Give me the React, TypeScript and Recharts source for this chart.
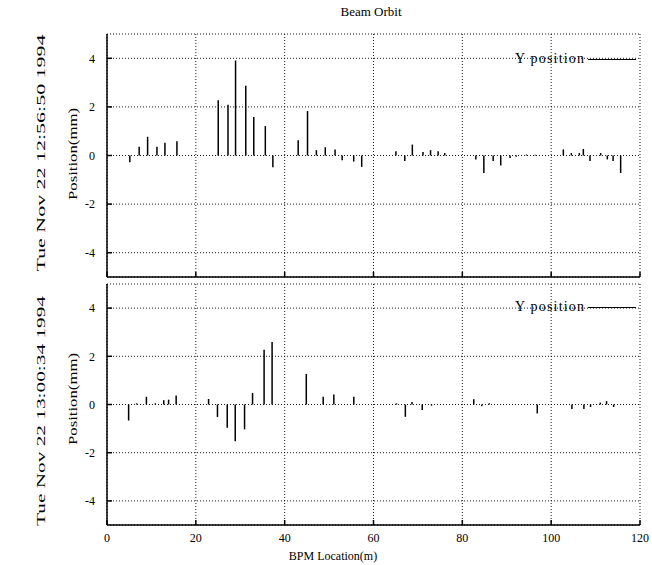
import React from 'react';
import { BarChart, Bar, XAxis, YAxis, CartesianGrid, Legend } from 'recharts';

const FONT = 'Liberation Serif';

const xTicks = [0, 20, 40, 60, 80, 100, 120];
const yTicks = [-4, -2, 0, 2, 4];

const titleText = 'Beam Orbit';
const seriesName = 'Y position';
const yLabel = 'Position(mm)';
const xLabel = 'BPM Location(m)';
const topStamp = 'Tue Nov 22 12:56:50 1994';
const bottomStamp = 'Tue Nov 22 13:00:34 1994';

const topLocations = [
  5.2, 7.3, 9.2, 11.3, 13.1, 15.8, 25.1, 27.3, 29.0, 31.3, 33.1, 35.7, 37.4, 43.1, 45.2,
  47.2, 49.2, 51.4, 53.0, 55.6, 57.4, 65.1, 67.1, 68.8, 71.2, 72.9, 74.6, 76.1, 83.1, 84.9,
  87.0, 88.7, 90.8, 92.2, 94.5, 96.5, 102.8, 104.6, 106.4, 107.3, 108.8, 111.2, 112.7, 114.0, 115.7,
];
const topValues = [
  -0.28, 0.36, 0.77, 0.36, 0.52, 0.59, 2.27, 2.09, 3.91, 2.87, 1.58, 1.21, -0.48, 0.63, 1.83,
  0.22, 0.34, 0.25, -0.2, -0.25, -0.47, 0.18, -0.23, 0.45, 0.14, 0.22, 0.18, 0.1, -0.16, -0.72,
  -0.23, -0.41, -0.1, -0.05, 0.04, 0.03, 0.25, 0.1, 0.1, 0.27, -0.23, 0.1, -0.16, -0.23, -0.72,
];

const bottomLocations = [
  4.8, 6.6, 8.8, 10.8, 12.7, 13.8, 15.5, 22.8, 24.8, 27.0, 28.8, 30.9, 32.7, 35.3, 37.1,
  44.8, 48.6, 51.0, 55.5, 65.1, 67.1, 68.6, 70.9, 73.0, 82.5, 84.3, 86.0, 96.8, 104.6, 107.3,
  108.8, 111.0, 112.4, 114.0,
];
const bottomValues = [
  -0.66, 0.05, 0.32, 0.05, 0.18, 0.2, 0.37, 0.23, -0.52, -0.96, -1.52, -1.03, 0.48, 2.27, 2.59,
  1.27, 0.32, 0.41, 0.32, 0.05, -0.51, 0.1, -0.23, -0.05, 0.22, -0.07, 0.05, -0.37, -0.19, -0.19,
  -0.1, 0.08, 0.14, -0.1,
];

const LegendContent = () => (
  <div
    style={{
      display: 'flex',
      alignItems: 'center',
      fontFamily: FONT,
      fontSize: 14,
      letterSpacing: 1.2,
      color: '#000',
      lineHeight: '16px',
      whiteSpace: 'nowrap',
    }}
  >
    <span>{seriesName}</span>
    <span style={{ display: 'inline-block', width: 48, borderTop: '1.5px solid #000', marginLeft: 3 }} />
  </div>
);

const axisLineStyle = { stroke: '#000', strokeWidth: 1.5 };
const tickStyle = { fill: '#000', fontSize: 12, fontFamily: FONT, style: { fontFamily: FONT } };
const empty = () => '';
const txt = { fontFamily: FONT };

function Panel({ locs, vals, showX, top, height, legendTop }: any) {
  const data = locs.map((x: number, i: number) => ({ x, v: vals[i] }));
  return (
    <div style={{ position: 'absolute', left: 0, top, width: 652, height }}>
      <BarChart width={652} height={height} data={data} margin={{ top: 34, right: 12, bottom: 0, left: 0 }}>
        <CartesianGrid stroke="#000" strokeDasharray="1 2" strokeWidth={0.9} />
        <XAxis
          dataKey="x"
          type="number"
          domain={[0, 120]}
          ticks={xTicks}
          allowDataOverflow
          height={showX ? 40 : 8}
          tickSize={-5}
          tickMargin={showX ? 13 : 0}
          tickFormatter={showX ? undefined : empty}
          tick={tickStyle}
          axisLine={axisLineStyle}
          tickLine={axisLineStyle}
        />
        <XAxis
          xAxisId="t"
          orientation="top"
          type="number"
          domain={[0, 120]}
          ticks={xTicks}
          allowDataOverflow
          height={0}
          tickSize={-5}
          tickFormatter={empty}
          axisLine={axisLineStyle}
          tickLine={axisLineStyle}
        />
        <YAxis
          type="number"
          domain={[-5, 5]}
          ticks={yTicks}
          allowDataOverflow
          width={107}
          tickSize={-5}
          tickMargin={17}
          tick={tickStyle}
          axisLine={axisLineStyle}
          tickLine={axisLineStyle}
        />
        <YAxis
          yAxisId="r"
          orientation="right"
          type="number"
          domain={[-5, 5]}
          ticks={yTicks}
          allowDataOverflow
          width={0}
          tickSize={-5}
          tickFormatter={empty}
          axisLine={axisLineStyle}
          tickLine={axisLineStyle}
        />
        <Legend
          layout="horizontal"
          verticalAlign="middle"
          align="center"
          content={<LegendContent />}
          wrapperStyle={{ top: legendTop, left: 515, width: 130, height: 16 }}
        />
        <Bar dataKey="v" name={seriesName} fill="#000" barSize={1.5} isAnimationActive={false} />
      </BarChart>
    </div>
  );
}

export default function App() {
  return (
    <div style={{ position: 'absolute', left: 0, top: 0, width: 652, height: 565, background: '#fff' }}>
      <Panel locs={topLocations} vals={topValues} showX={false} top={0} height={285} legendTop={51} />
      <Panel locs={bottomLocations} vals={bottomValues} showX={true} top={250} height={315} legendTop={49} />
      <svg
        width={652}
        height={565}
        style={{ position: 'absolute', left: 0, top: 0, pointerEvents: 'none' }}
        fill="#000"
      >
        <text x={371} y={16} textAnchor="middle" fontSize={13} style={txt}>{titleText}</text>
        <text transform="translate(45,153) rotate(-90)" textAnchor="middle" fontSize={13} textLength={237} lengthAdjust="spacingAndGlyphs" style={txt}>{topStamp}</text>
        <text transform="translate(77,154) rotate(-90)" textAnchor="middle" fontSize={13} textLength={92} lengthAdjust="spacingAndGlyphs" style={txt}>{yLabel}</text>
        <text transform="translate(45,411) rotate(-90)" textAnchor="middle" fontSize={13} textLength={230} lengthAdjust="spacingAndGlyphs" style={txt}>{bottomStamp}</text>
        <text transform="translate(77,399) rotate(-90)" textAnchor="middle" fontSize={13} textLength={92} lengthAdjust="spacingAndGlyphs" style={txt}>{yLabel}</text>
        <text x={333} y={560} textAnchor="middle" fontSize={12} style={txt}>{xLabel}</text>
      </svg>
    </div>
  );
}
